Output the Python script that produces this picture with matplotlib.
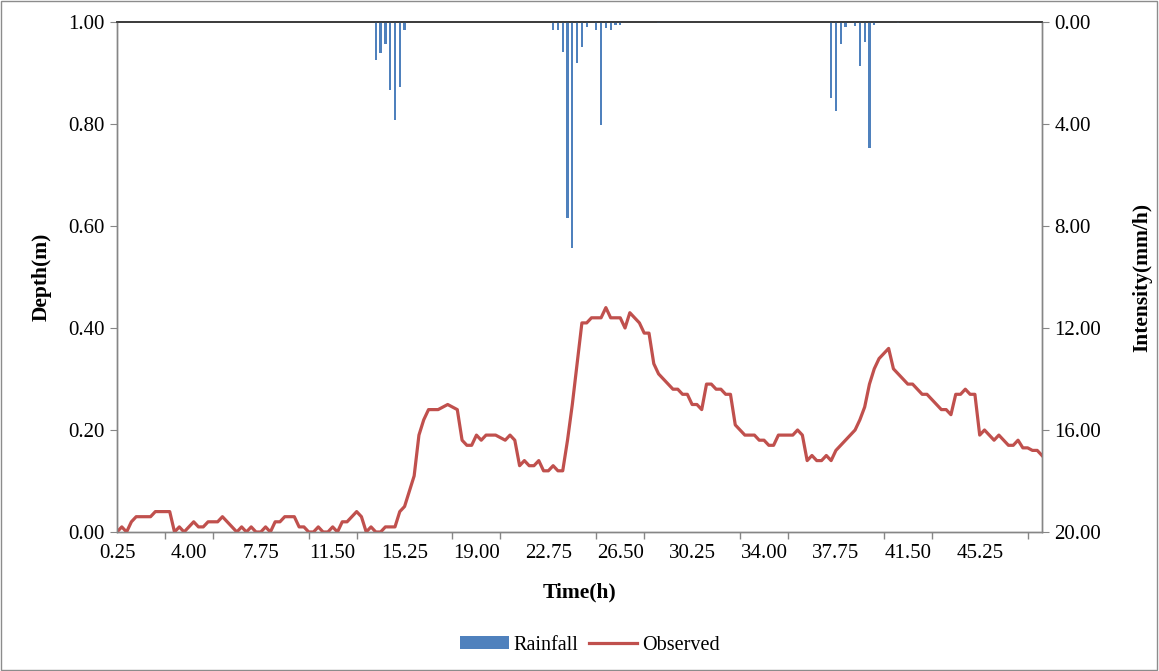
import numpy as np
import matplotlib
matplotlib.use("Agg")
import matplotlib.pyplot as plt
from matplotlib.patches import Rectangle
from matplotlib.lines import Line2D
from matplotlib.ticker import FixedLocator, FuncFormatter

# ---------------- data ----------------
time_step = 0.25
depth_observed = [
    0.00, 0.01, 0.00, 0.02, 0.03, 0.03, 0.03, 0.03, 0.04, 0.04,
    0.04, 0.04, 0.00, 0.01, 0.00, 0.01, 0.02, 0.01, 0.01, 0.02,
    0.02, 0.02, 0.03, 0.02, 0.01, 0.00, 0.01, 0.00, 0.01, 0.00,
    0.00, 0.01, 0.00, 0.02, 0.02, 0.03, 0.03, 0.03, 0.01, 0.01,
    0.00, 0.00, 0.01, 0.00, 0.00, 0.01, 0.00, 0.02, 0.02, 0.03,
    0.04, 0.03, 0.00, 0.01, 0.00, 0.00, 0.01, 0.01, 0.01, 0.04,
    0.05, 0.08, 0.11, 0.19, 0.22, 0.24, 0.24, 0.24, 0.245, 0.25,
    0.245, 0.24, 0.18, 0.17, 0.17, 0.19, 0.18, 0.19, 0.19, 0.19,
    0.185, 0.18, 0.19, 0.18, 0.13, 0.14, 0.13, 0.13, 0.14, 0.12,
    0.12, 0.13, 0.12, 0.12, 0.18, 0.25, 0.33, 0.41, 0.41, 0.42,
    0.42, 0.42, 0.44, 0.42, 0.42, 0.42, 0.40, 0.43, 0.42, 0.41,
    0.39, 0.39, 0.33, 0.31, 0.30, 0.29, 0.28, 0.28, 0.27, 0.27,
    0.25, 0.25, 0.24, 0.29, 0.29, 0.28, 0.28, 0.27, 0.27, 0.21,
    0.20, 0.19, 0.19, 0.19, 0.18, 0.18, 0.17, 0.17, 0.19, 0.19,
    0.19, 0.19, 0.20, 0.19, 0.14, 0.15, 0.14, 0.14, 0.15, 0.14,
    0.16, 0.17, 0.18, 0.19, 0.20, 0.22, 0.245, 0.29, 0.32, 0.34,
    0.35, 0.36, 0.32, 0.31, 0.30, 0.29, 0.29, 0.28, 0.27, 0.27,
    0.26, 0.25, 0.24, 0.24, 0.23, 0.27, 0.27, 0.28, 0.27, 0.27,
    0.19, 0.20, 0.19, 0.18, 0.19, 0.18, 0.17, 0.17, 0.18, 0.165,
    0.165, 0.16, 0.16, 0.15,
]
time_h = [time_step * (k + 1) for k in range(len(depth_observed))]

rain_time = [13.75, 14.00, 14.25, 14.50, 14.75, 15.00, 15.25,
             23.00, 23.25, 23.50, 23.75, 24.00, 24.25, 24.50, 24.75,
             25.25, 25.50, 25.75, 26.00, 26.25, 26.50, 28.50,
             37.50, 37.75, 38.00, 38.25, 38.75, 39.00, 39.25, 39.50,
             39.75, 41.00]
rain_intensity = [1.49, 1.22, 0.86, 2.67, 3.84, 2.55, 0.31,
                  0.31, 0.31, 1.16, 7.67, 8.88, 1.62, 0.97, 0.18,
                  0.31, 4.04, 0.24, 0.31, 0.12, 0.10, 0.05,
                  2.97, 3.49, 0.87, 0.18, 0.16, 1.71, 0.77, 4.93,
                  0.10, 0.05]

label_ticks = [0.25 + 3.75 * k for k in range(13)]
mark_ticks = [0.25 + 2.5 * k for k in range(20)]
depth_ticks = [0.0, 0.2, 0.4, 0.6, 0.8, 1.0]
intensity_ticks = [0, 4, 8, 12, 16, 20]

# ---------------- style ----------------
plt.rcParams['font.family'] = ['Liberation Serif', 'DejaVu Serif']
W, H = 1159, 671
fig = plt.figure(figsize=(W / 100, H / 100), dpi=100)
fig.patch.set_facecolor('white')
fig.add_artist(Rectangle((0.001, 0.002), 0.997, 0.996, transform=fig.transFigure,
                         fill=False, edgecolor='#8c8c8c', linewidth=1.0))

left, right = 117 / W, 1042 / W
bottom, top = 1 - 532 / H, 1 - 22 / H
ax = fig.add_axes([left, bottom, right - left, top - bottom])
ax2 = ax.twinx()

axis_gray = '#868686'
red = '#C0504D'
blue = '#4F81BD'
tick_fs = 15
label_fs = 15.5

ax.plot(time_h, depth_observed, color=red, linewidth=2.3, solid_joinstyle='round',
        zorder=3)
ax.set_xlim(0.25, time_h[-1])
ax.set_ylim(0, 1.0)
ax.set_yticks(depth_ticks)
ax.yaxis.set_major_formatter(FuncFormatter(lambda v, p: f"{v:.2f}"))

ax.xaxis.set_major_locator(FixedLocator(label_ticks))
ax.xaxis.set_minor_locator(FixedLocator(mark_ticks))
ax.xaxis.set_major_formatter(FuncFormatter(lambda v, p: f"{v:.2f}"))
ax.tick_params(axis='x', which='major', length=0, pad=9, labelsize=tick_fs)
ax.tick_params(axis='x', which='minor', length=5, color=axis_gray, width=1)
ax.tick_params(axis='y', length=5, color=axis_gray, labelsize=tick_fs, pad=4)

ax2.bar(rain_time, rain_intensity, width=0.12, color=blue, linewidth=0, zorder=2)
ax2.set_ylim(20, 0)
ax2.set_yticks(intensity_ticks)
ax2.yaxis.set_major_formatter(FuncFormatter(lambda v, p: f"{v:.2f}"))
ax2.tick_params(axis='y', length=5, color=axis_gray, labelsize=tick_fs, pad=4)

for a in (ax, ax2):
    for s in ('left', 'right', 'bottom'):
        a.spines[s].set_color(axis_gray)
        a.spines[s].set_linewidth(1.0)
    a.spines['top'].set_color('#3a3a3a')
    a.spines['top'].set_linewidth(1.2)

ax.set_xlabel('Time(h)', fontsize=label_fs, fontweight='bold', labelpad=14)
ax.set_ylabel('Depth(m)', fontsize=label_fs, fontweight='bold', labelpad=12)
ax2.set_ylabel('Intensity(mm/h)', fontsize=label_fs, fontweight='bold', labelpad=22)

handles = [Rectangle((0, 0), 1, 1, facecolor=blue, edgecolor='none'),
           Line2D([0], [0], color=red, linewidth=2.3)]
fig.legend(handles, ['Rainfall', 'Observed'], loc='center',
           bbox_to_anchor=(590 / W, 1 - 645 / H), ncol=2, frameon=False,
           fontsize=14.5, handlelength=2.4, handleheight=0.6, columnspacing=0.5,
           handletextpad=0.25)

fig.savefig('out.png', dpi=100)
